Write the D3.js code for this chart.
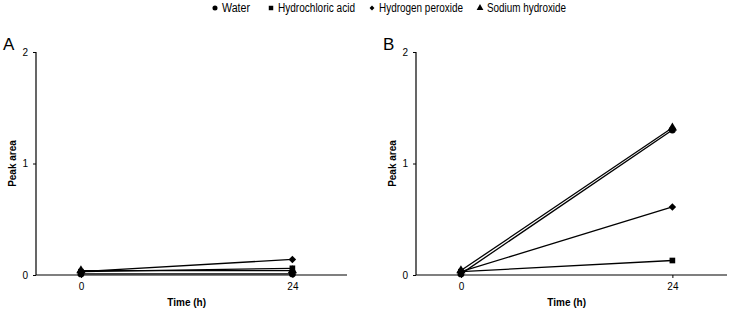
<!DOCTYPE html>
<html><head><meta charset="utf-8">
<script src="https://cdn.jsdelivr.net/npm/d3@7"></script>
<style>body{margin:0;background:#fff;font-family:"Liberation Sans",Arial,sans-serif;}</style>
</head><body><svg id="c" width="729" height="312"></svg>
<script>
const times = [0, 24];
const seriesNames = ["Water", "Hydrochloric acid", "Hydrogen peroxide", "Sodium hydroxide"];
const panelLabels = ["A", "B"];
const yTicks = [0, 1, 2];
const xTicks = [0, 24];
// Panel A values
const waterA = [0.01, 0.01];
const hclA = [0.03, 0.06];
const h2o2A = [0.03, 0.14];
const naohA = [0.04, 0.04];
// Panel B values
const waterB = [0.01, 1.30];
const hclB = [0.03, 0.13];
const h2o2B = [0.03, 0.61];
const naohB = [0.04, 1.32];

const panels = [
  {label: panelLabels[0], series: [waterA, hclA, h2o2A, naohA], ox: 0},
  {label: panelLabels[1], series: [waterB, hclB, h2o2B, naohB], ox: 380}
];
const symbols = [d3.symbolCircle, d3.symbolSquare, d3.symbolSquare, d3.symbolTriangle];
const symRot = [0, 0, 45, 0];
const symSizes = [38, 32, 28, 38];

const svg = d3.select("#c");

// Legend
const legendX = [215, 271, 372, 480];
const legendW = [28, 77, 84, 79];
const lg = svg.append("g");
seriesNames.forEach((n, i) => {
  lg.append("path").attr("d", d3.symbol(symbols[i], i === 2 ? 12 : 20)())
    .attr("transform", `translate(${legendX[i]},8) rotate(${symRot[i]})`).attr("fill", "#000");
  lg.append("text").attr("x", legendX[i] + 7).attr("y", 12).text(n)
    .attr("font-size", 12).attr("textLength", legendW[i]).attr("lengthAdjust", "spacingAndGlyphs")
    .attr("fill", "#000");
});

panels.forEach(p => {
  const g = svg.append("g").attr("transform", `translate(${p.ox},0)`);
  const x = d3.scaleLinear().domain([-5.1, 30.2]).range([36, 347]);
  const y = d3.scaleLinear().domain([0, 2]).range([275, 52]);

  const ya = g.append("g").attr("transform", "translate(36,0)")
    .call(d3.axisLeft(y).tickValues(yTicks).tickSize(3).tickPadding(5).tickFormat(d3.format("d")));
  const xa = g.append("g").attr("transform", "translate(0,275)")
    .call(d3.axisBottom(x).tickValues(xTicks).tickSize(3).tickPadding(5));
  [ya, xa].forEach(a => {
    a.select(".domain").attr("stroke", "#000").attr("stroke-width", 1.2);
    a.selectAll("text").attr("font-size", 10).attr("font-family", "Liberation Sans, Arial, sans-serif").attr("fill", "#000");
    a.selectAll("line").attr("stroke", "#000");
  });
  ya.select(".domain").attr("d", `M0,${y(2)}V${y(0)}`);
  xa.select(".domain").attr("d", `M36,0H347`);

  g.append("text").attr("x", 3).attr("y", 50).text(p.label)
    .attr("font-size", 17).attr("fill", "#000");
  g.append("text").attr("transform", `translate(16,${y(1)}) rotate(-90)`)
    .attr("text-anchor", "middle").attr("font-size", 10).attr("font-weight", "bold").text("Peak area");
  g.append("text").attr("x", (x(0) + x(24)) / 2).attr("y", 306)
    .attr("text-anchor", "middle").attr("font-size", 10).attr("font-weight", "bold").text("Time (h)");

  const line = d3.line().x((d, i) => x(times[i])).y(d => y(d));
  p.series.forEach(s => {
    g.append("path").datum(s).attr("d", line).attr("fill", "none")
      .attr("stroke", "#000").attr("stroke-width", 1.3);
  });
  p.series.forEach((s, si) => {
    s.forEach((v, i) => {
      g.append("path").attr("d", d3.symbol(symbols[si], symSizes[si])())
        .attr("transform", `translate(${x(times[i])},${y(v)}) rotate(${symRot[si]})`).attr("fill", "#000");
    });
  });
});
</script></body></html>
